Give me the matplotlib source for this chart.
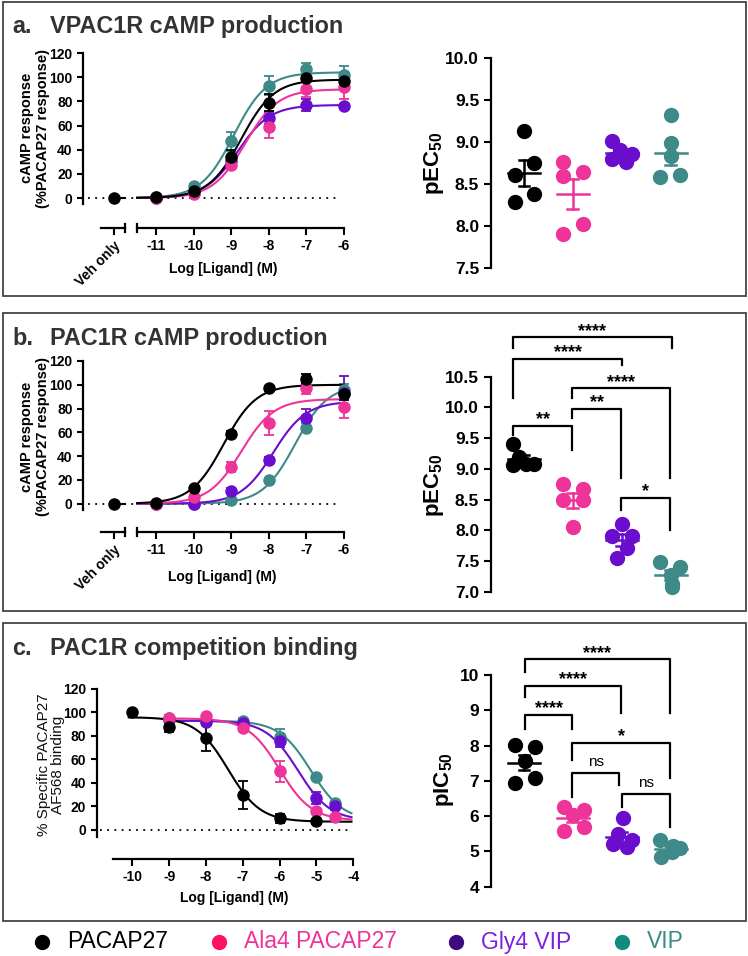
import matplotlib
matplotlib.use("Agg")
import matplotlib.pyplot as plt
import numpy as np

plt.rcParams['font.family'] = ['Liberation Sans', 'DejaVu Sans']
plt.rcParams['mathtext.fontset'] = 'custom'
plt.rcParams['mathtext.rm'] = 'Liberation Sans'
plt.rcParams['mathtext.bf'] = 'Liberation Sans:bold'

W, H = 748, 956

# ---- data ----
names = ["PACAP27", "Ala4 PACAP27", "Gly4 VIP", "VIP"]
colors = ["#000000", "#ee3399", "#6a0dcc", "#3d8a88"]
legend_marker_colors = ["#000000", "#ff1166", "#3d0a80", "#138a80"]
legend_text_colors = ["#000000", "#ee3399", "#7a22dd", "#3d8a88"]

# a. VPAC1R cAMP production (log M, % response, SEM)
conc_ab = [-11, -10, -9, -8, -7, -6]
a_resp = [[1, 6, 34, 79, 99, 97],
          [0, 3, 27, 59, 90, 92],
          [0, 5, 31, 66, 77, 76],
          [1, 10, 47, 93, 107, 102]]
a_err = [[1, 1, 6, 7, 2, 3],
         [1, 1, 3, 9, 6, 10],
         [1, 1, 3, 5, 5, 2],
         [1, 2, 8, 8, 5, 7]]
a_top = [98, 90, 77, 104]
a_logec50 = [-8.73, -8.63, -8.83, -8.93]

# b. PAC1R cAMP production
b_resp = [[1, 13, 59, 97, 105, 92],
          [0, 6, 31, 68, 97, 81],
          [0, 0, 11, 37, 72, 93],
          [0, 0, 3, 20, 64, 96]]
b_err = [[1, 2, 2, 2, 4, 5],
         [1, 1, 4, 10, 5, 9],
         [1, 1, 2, 2, 8, 14],
         [1, 1, 1, 2, 4, 5]]
b_top = [100, 88, 86, 100]
b_logec50 = [-9.2, -8.73, -7.88, -7.3]
veh_value = 0

# c. PAC1R competition binding
c_conc = [[-10, -9, -8, -7, -6, -5],
          [-9, -8, -7, -6, -5, -4.5],
          [-9, -8, -7, -6, -5, -4.5],
          [-9, -8, -7, -6, -5, -4.5]]
c_resp = [[100, 88, 78, 30, 10, 8],
          [95, 97, 87, 50, 16, 11],
          [94, 92, 91, 76, 27, 20],
          [95, 93, 93, 79, 45, 23]]
c_err = [[1, 5, 11, 12, 4, 1],
         [2, 2, 3, 9, 2, 2],
         [2, 2, 2, 5, 5, 3],
         [3, 2, 2, 7, 2, 2]]
c_top = [96, 95, 93, 93]
c_bottom = [7, 8, 8, 8]
c_logic50 = [-7.4, -6.0, -5.5, -5.15]

# individual potency values
pec50_a = [[9.13, 8.75, 8.61, 8.38, 8.28],
           [8.76, 8.64, 8.59, 8.02, 7.90],
           [9.01, 8.91, 8.86, 8.80, 8.76],
           [9.32, 8.99, 8.83, 8.61, 8.58]]
pec50_b = [[9.40, 9.20, 9.06, 9.08, 9.08],
           [8.75, 8.67, 8.49, 8.49, 8.05],
           [8.11, 7.91, 7.91, 7.71, 7.55],
           [7.48, 7.40, 7.28, 7.12, 7.07]]
pic50_c = [[8.02, 7.97, 7.57, 7.09, 6.93],
           [6.27, 6.17, 6.03, 5.70, 5.59],
           [5.94, 5.49, 5.32, 5.21, 5.13],
           [5.32, 5.15, 5.11, 4.98, 4.85]]
# horizontal spread of the scatter dots
off_a = [[0.01, 0.2, -0.19, 0.2, -0.19],
         [-0.2, 0.2, -0.2, 0.2, -0.2],
         [-0.19, -0.03, 0.2, -0.19, 0.08],
         [0, 0, 0, 0.2, -0.21]]
off_b = [[-0.22, -0.1, -0.22, 0.05, 0.2],
         [-0.2, 0.2, -0.2, 0.2, 0],
         [0, 0.2, -0.19, 0.11, -0.1],
         [-0.21, 0.2, 0, 0.03, 0.03]]
off_c = [[-0.18, 0.22, 0.02, 0.22, -0.18],
         [-0.19, 0.22, 0.01, 0.22, -0.18],
         [0.02, -0.07, 0.2, -0.17, 0.1],
         [-0.21, 0.05, 0.2, 0.02, -0.19]]

# significance brackets: (x1, x2, y, left leg end, right leg end, label)
sig_b = [(-0.22, 3.02, 11.14, 10.96, 10.96, "****"),
         (-0.22, 2.01, 10.79, 10.15, 10.69, "****"),
         (0.98, 2.99, 10.31, 10.15, 8.85, "****"),
         (0.98, 1.99, 9.98, 9.82, 8.85, "**"),
         (-0.22, 0.99, 9.70, 9.55, 9.31, "**"),
         (1.99, 2.99, 8.53, 8.33, 8.0, "*")]
sig_c = [(0.02, 2.98, 10.44, 10.09, 8.91, "****"),
         (0.02, 1.98, 9.69, 9.37, 8.93, "****"),
         (0.02, 0.99, 8.88, 8.46, 8.46, "****"),
         (0.99, 2.98, 8.08, 7.59, 7.07, "*"),
         (0.99, 1.95, 7.21, 6.53, 6.88, "ns"),
         (2.0, 2.98, 6.62, 6.27, 5.70, "ns")]

fig = plt.figure(figsize=(W / 100, H / 100), dpi=100)
bg = fig.add_axes([0, 0, 1, 1])
bg.set_xlim(0, W)
bg.set_ylim(H, 0)
bg.axis('off')


def px_axes(left, top, right, bottom):
    return fig.add_axes([left / W, 1 - bottom / H, (right - left) / W, (bottom - top) / H])


def style_spines(ax, fs):
    for s in ['top', 'right']:
        ax.spines[s].set_visible(False)
    for s in ['left', 'bottom']:
        ax.spines[s].set_linewidth(1.6)
    ax.tick_params(direction='out', length=4, width=1.5, labelsize=fs)
    for lab in ax.get_yticklabels() + ax.get_xticklabels():
        lab.set_fontweight('bold')


def sigmoid(x, top, logec, bottom=0, hill=1.0):
    return bottom + (top - bottom) / (1 + 10 ** ((logec - x) * hill))


def dose_cAMP(rect, ylim, resp, err, tops, logecs, spine_low):
    ax = px_axes(*rect)
    ax.set_xlim(-12.94, -5.8)
    ax.set_ylim(*ylim)
    ax.set_yticks(range(0, 121, 20))
    ax.set_xticks([-12.12, -11, -10, -9, -8, -7, -6])
    ax.set_xticklabels(["Veh only", "-11", "-10", "-9", "-8", "-7", "-6"])
    style_spines(ax, 10)
    ax.tick_params(axis='x', length=5, pad=3)
    ax.spines['left'].set_bounds(spine_low, 120)
    ax.spines['bottom'].set_bounds(-11.5, -6)
    veh = ax.get_xticklabels()[0]
    veh.set_rotation(45)
    veh.set_ha('right')
    veh.set_rotation_mode('anchor')
    y0 = ylim[0]
    ax.plot([-12.45, -11.83], [y0, y0], color='k', lw=1.6, clip_on=False)
    for xb in [-11.83, -11.5]:
        ax.plot([xb, xb], [y0 - 3.5, y0 + 3.5], color='k', lw=1.6, clip_on=False)
    ax.plot([-12.8, -6.1], [0, 0], color='k', lw=1.3, ls=(0, (1, 3)))
    xs = np.linspace(-11.5, -6, 200)
    for i in [3, 2, 1, 0]:
        ax.plot(xs, sigmoid(xs, tops[i], logecs[i]), color=colors[i], lw=1.5, clip_on=False)
        ax.errorbar(conc_ab, resp[i], yerr=err[i], fmt='o', ms=8, color=colors[i],
                    ecolor=colors[i], elinewidth=1.3, capsize=3.5, capthick=1.3, clip_on=False)
    ax.plot([-12.12, -11.83], [veh_value, veh_value], color='k', lw=1.5)
    ax.plot([-12.12], [veh_value], 'o', ms=8, color='k', clip_on=False)
    return ax


def potency_axes(rect, ylim, yticks, fmt, values, offsets):
    ax = px_axes(*rect)
    ax.set_xlim(-0.673, 3.6)
    ax.set_ylim(*ylim)
    ax.set_yticks(yticks)
    ax.set_yticklabels([fmt.format(t) for t in yticks])
    ax.set_xticks([])
    style_spines(ax, 12.5)
    ax.spines['bottom'].set_visible(False)
    ax.tick_params(axis='y', length=5)
    for i in range(4):
        v = np.array(values[i])
        xs = i + np.array(offsets[i])
        ax.plot(xs, v, 'o', ms=10, color=colors[i], clip_on=False, zorder=2)
        m = v.mean()
        sem = v.std(ddof=1) / np.sqrt(len(v))
        ax.plot([i - 0.33, i + 0.33], [m, m], color=colors[i], lw=1.8, zorder=3)
        ax.plot([i, i], [m - sem, m + sem], color=colors[i], lw=1.8, zorder=3)
        for yy in [m - sem, m + sem]:
            ax.plot([i - 0.11, i + 0.11], [yy, yy], color=colors[i], lw=1.8, zorder=3)
    return ax


def brackets(ax, sigs):
    for x1, x2, y, l1, l2, lab in sigs:
        ax.plot([x1, x1, x2, x2], [l1, y, y, l2], color='k', lw=1.6, clip_on=False)
        if lab == "ns":
            ax.annotate(lab, xy=((x1 + x2) / 2, y), xytext=(0, 5.5), textcoords='offset points',
                        ha='center', va='baseline', fontsize=11, annotation_clip=False)
        else:
            ax.annotate(lab, xy=((x1 + x2) / 2, y), xytext=(0, 1.2), textcoords='offset points',
                        ha='center', va='baseline', fontsize=13, fontweight='bold',
                        annotation_clip=False)


# ---- panel frames and titles ----
for top, bottom in [(2, 296), (313, 611), (623, 921)]:
    bg.add_patch(plt.Rectangle((3, top), 743, bottom - top, fill=False, ec='#444444', lw=1.3))

titles = [("a.", "VPAC1R cAMP production", 33),
          ("b.", "PAC1R cAMP production", 345),
          ("c.", "PAC1R competition binding", 655)]
for letter, text, yb in titles:
    bg.text(12, yb, letter, fontsize=16.8, fontweight='bold', color='#333333', va='baseline')
    bg.text(50, yb, text, fontsize=16.8, fontweight='bold', color='#333333', va='baseline')

ylab_cAMP = "cAMP response\n(%PACAP27 response)"

# ---- panel a ----
ax_a = dose_cAMP((83, 53, 351.5, 228), (-24.8, 120), a_resp, a_err, a_top, a_logec50, -4.7)
bg.text(35, 128, ylab_cAMP, rotation=90, ha='center', va='center',
        fontsize=10.5, fontweight='bold', multialignment='center', linespacing=1.1)
bg.text(223, 269, "Log [Ligand] (M)", ha='center', va='center', fontsize=10, fontweight='bold')

ax_a2 = potency_axes((491, 58, 700, 268), (7.5, 10.0), [7.5, 8.0, 8.5, 9.0, 9.5, 10.0],
                     "{:.1f}", pec50_a, off_a)
bg.text(434, 163, r'$\mathbf{pEC_{50}}$', rotation=90, ha='center', va='center', fontsize=16)

# ---- panel b ----
ax_b = dose_cAMP((83, 361, 351.5, 532), (-23.8, 120), b_resp, b_err, b_top, b_logec50, -5.3)
bg.text(35, 437, ylab_cAMP, rotation=90, ha='center', va='center',
        fontsize=10.5, fontweight='bold', multialignment='center', linespacing=1.1)
bg.text(222, 577, "Log [Ligand] (M)", ha='center', va='center', fontsize=10, fontweight='bold')

ax_b2 = potency_axes((491, 376.7, 700, 591.7), (7.0, 10.5),
                     [7.0, 7.5, 8.0, 8.5, 9.0, 9.5, 10.0, 10.5], "{:.1f}", pec50_b, off_b)
brackets(ax_b2, sig_b)
bg.text(434, 485, r'$\mathbf{pEC_{50}}$', rotation=90, ha='center', va='center', fontsize=16)

# ---- panel c ----
ax_c = px_axes(96.7, 689, 353.3, 859)
ax_c.set_xlim(-10.97, -4)
ax_c.set_ylim(-24.7, 120)
ax_c.set_yticks(range(0, 121, 20))
ax_c.set_xticks(range(-10, -3))
ax_c.set_xticklabels([str(t) for t in range(-10, -3)])
style_spines(ax_c, 10)
ax_c.tick_params(axis='x', length=5, pad=3)
ax_c.spines['left'].set_bounds(-5.7, 120)
ax_c.spines['bottom'].set_bounds(-10.52, -4)
ax_c.plot([-10.88, -4.05], [0, 0], color='k', lw=1.3, ls=(0, (1, 3)))
for i in [3, 2, 1, 0]:
    xs = np.linspace(c_conc[i][0] - 0.1, -4.05, 200)
    ax_c.plot(xs, sigmoid(xs, c_bottom[i], c_logic50[i], c_top[i]), color=colors[i], lw=1.5,
              clip_on=False)
    ax_c.errorbar(c_conc[i], c_resp[i], yerr=c_err[i], fmt='o', ms=8, color=colors[i],
                  ecolor=colors[i], elinewidth=1.3, capsize=3.5, capthick=1.3, clip_on=False)
bg.text(51, 765, "% Specific PACAP27\nAF568 binding", rotation=90, ha='center', va='center',
        fontsize=11, multialignment='center', linespacing=1.0, color='#111111')
bg.text(234, 898, "Log [Ligand] (M)", ha='center', va='center', fontsize=10, fontweight='bold')

ax_c2 = potency_axes((491, 675, 700, 886.7), (4, 10), [4, 5, 6, 7, 8, 9, 10], "{:d}",
                     pic50_c, off_c)
brackets(ax_c2, sig_c)
bg.text(444, 780, r'$\mathbf{pIC_{50}}$', rotation=90, ha='center', va='center', fontsize=16)

# ---- legend ----
leg_x = [42, 219, 456, 622]
for i in range(4):
    bg.plot([leg_x[i]], [942], 'o', ms=10, color=legend_marker_colors[i])
    bg.text(leg_x[i] + 25, 942, names[i], color=legend_text_colors[i], fontsize=16.5,
            va='center', ha='left')

fig.savefig("out.png", dpi=100)
